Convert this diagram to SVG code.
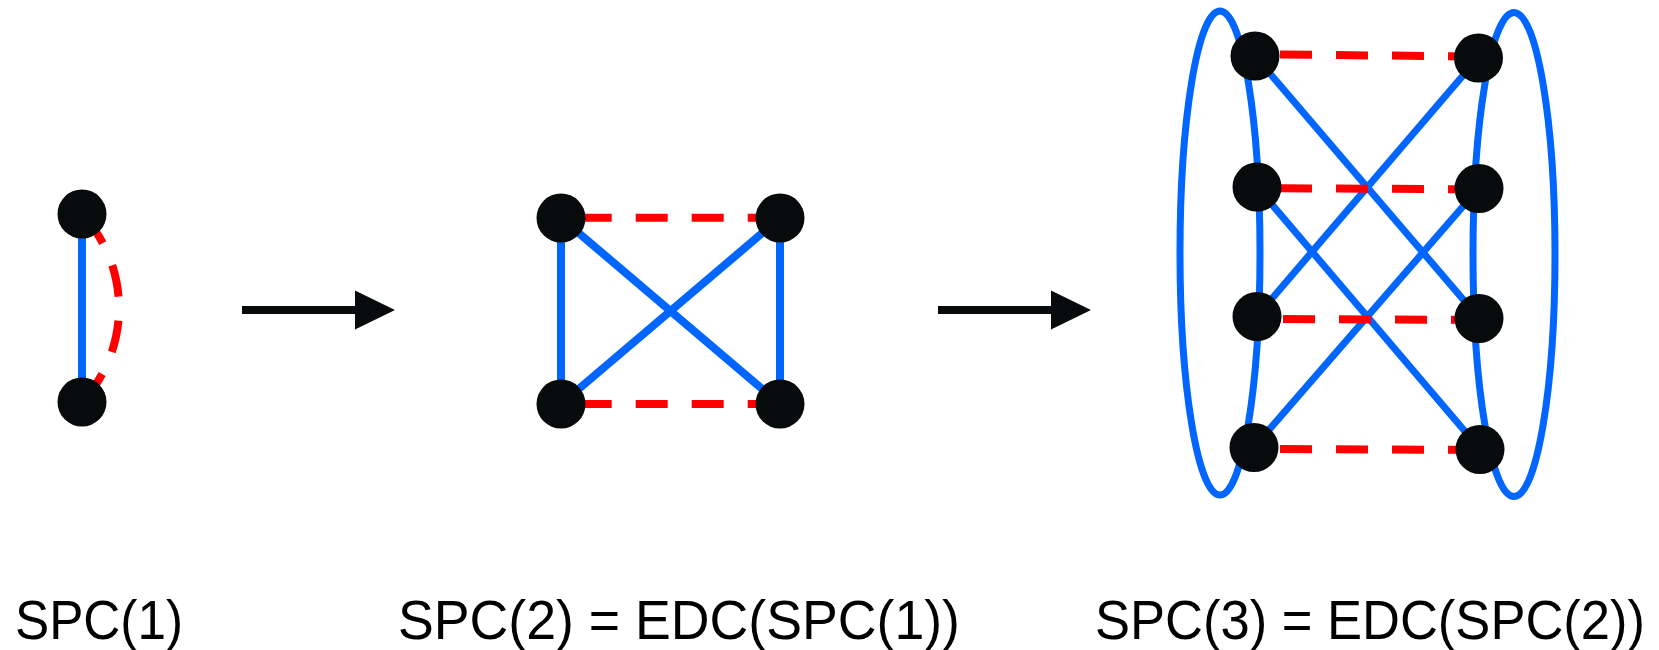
<svg xmlns="http://www.w3.org/2000/svg" width="1659" height="650" viewBox="0 0 1659 650">
<style>
.b{stroke:#0066ff;stroke-width:8;fill:none}
.b3{stroke:#0066ff;stroke-width:7;fill:none}
.r{stroke:#ff0000;stroke-width:8;fill:none;stroke-dasharray:32 24}
.n{fill:#070b0b}
.a{stroke:#070b0b;stroke-width:8;fill:none}
.t{font-family:"Liberation Sans",Arial,sans-serif;font-size:55px;fill:#000}
</style>
<defs>
<marker id="ah" markerUnits="userSpaceOnUse" viewBox="0 0 40 40" refX="0" refY="20" markerWidth="40" markerHeight="40" orient="auto">
<path d="M0,0.5 L40,20 L0,39.5 Z" fill="#070b0b"/>
</marker>
</defs>
<rect width="1659" height="650" fill="#fff"/>
<g id="connectors">
<line class="b" x1="82" y1="214" x2="82" y2="402"/>
<path class="r" style="stroke-dashoffset:52" d="M82,214 A137.9,137.9 0 0 1 82,402"/>
<line class="a" x1="242" y1="310" x2="355" y2="310" marker-end="url(#ah)"/>
<line class="b" x1="561" y1="218" x2="561" y2="404"/>
<line class="b" x1="780" y1="218" x2="780" y2="404"/>
<line class="b" x1="561" y1="218" x2="780" y2="404"/>
<line class="b" x1="780" y1="218" x2="561" y2="404"/>
<line class="r" x1="579.7" y1="217.7" x2="779.7" y2="217.7"/>
<line class="r" x1="579.7" y1="404" x2="779.7" y2="404"/>
<line class="a" x1="938" y1="310" x2="1051" y2="310" marker-end="url(#ah)"/>
<ellipse class="b3" cx="1220" cy="253" rx="40" ry="242"/>
<ellipse class="b3" cx="1514" cy="254.5" rx="41" ry="242"/>
<line class="b3" x1="1255" y1="56" x2="1479" y2="318"/>
<line class="b3" x1="1478" y1="58" x2="1257" y2="316"/>
<line class="b3" x1="1257" y1="187" x2="1480" y2="449"/>
<line class="b3" x1="1479" y1="188" x2="1254" y2="447"/>
<line class="r" x1="1280" y1="54.5" x2="1480" y2="56.5"/>
<line class="r" x1="1280" y1="188.3" x2="1480" y2="189.3"/>
<line class="r" x1="1283" y1="319" x2="1480" y2="320"/>
<line class="r" x1="1280" y1="449" x2="1480" y2="450"/>
</g>
<g id="n1a"><circle class="n" cx="82" cy="214" r="24.5"/></g>
<g id="n1b"><circle class="n" cx="82" cy="402" r="24.5"/></g>
<g id="n2a"><circle class="n" cx="561" cy="218" r="24.5"/></g>
<g id="n2b"><circle class="n" cx="780" cy="218" r="24.5"/></g>
<g id="n2c"><circle class="n" cx="561" cy="404" r="24.5"/></g>
<g id="n2d"><circle class="n" cx="780" cy="404" r="24.5"/></g>
<g id="n3a"><circle class="n" cx="1255" cy="56" r="24.5"/></g>
<g id="n3b"><circle class="n" cx="1257" cy="187" r="24.5"/></g>
<g id="n3c"><circle class="n" cx="1257" cy="316.5" r="24.5"/></g>
<g id="n3d"><circle class="n" cx="1254" cy="447.5" r="24.5"/></g>
<g id="n3e"><circle class="n" cx="1478.5" cy="58" r="24.5"/></g>
<g id="n3f"><circle class="n" cx="1479" cy="188.5" r="24.5"/></g>
<g id="n3g"><circle class="n" cx="1479" cy="318.5" r="24.5"/></g>
<g id="n3h"><circle class="n" cx="1480" cy="449.5" r="24.5"/></g>
<g id="labels">
<text class="t" x="15" y="639" textLength="168" lengthAdjust="spacingAndGlyphs">SPC(1)</text>
<text class="t" x="398" y="639" textLength="562" lengthAdjust="spacingAndGlyphs">SPC(2) = EDC(SPC(1))</text>
<text class="t" x="1095" y="639" textLength="550" lengthAdjust="spacingAndGlyphs">SPC(3) = EDC(SPC(2))</text>
</g>
</svg>
